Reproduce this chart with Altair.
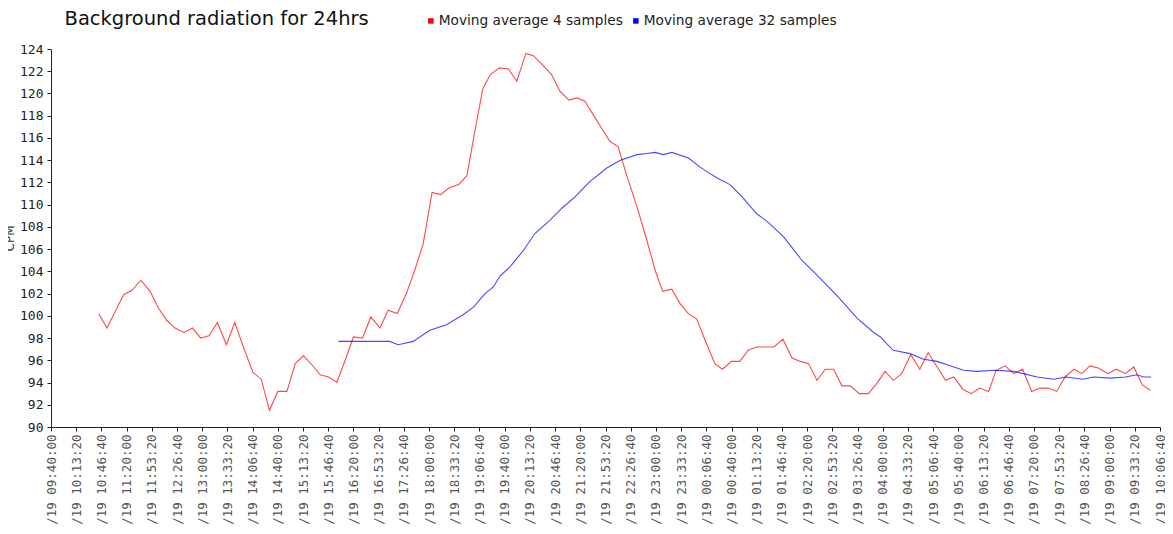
import json
import altair as alt
import pandas as pd

# ---- data (time in minutes after 09:40:00, values in CPM) ----
red_name = "Moving average 4 samples"
blue_name = "Moving average 32 samples"

red_minutes = [63, 74, 85, 96, 107, 119, 131, 142, 153, 164, 176, 187, 198, 209, 220, 232, 243, 255,
               267, 278, 289, 300, 312, 323, 334, 345, 356, 367, 378, 389, 400, 412, 423, 435, 446, 458,
               470, 481, 492, 504, 515, 526, 539, 550, 560, 571, 581, 593, 605, 616, 628, 638, 651, 662,
               673, 685, 696, 706, 717, 728, 739, 750, 762, 775, 788, 799, 809, 821, 832, 843, 854, 865,
               878, 888, 900, 911, 922, 933, 944, 956, 968, 980, 991, 1002, 1013, 1024, 1035, 1046, 1057,
               1069, 1081, 1092, 1103, 1114, 1125, 1137, 1149, 1160, 1172, 1183, 1194, 1206, 1217, 1228,
               1240, 1250, 1262, 1273, 1285, 1297, 1308, 1319, 1330, 1341, 1353, 1363, 1374, 1385, 1398,
               1409, 1421, 1432, 1443, 1454]
red_cpm = [100.2, 98.9, 100.4, 101.9, 102.3, 103.2, 102.2, 100.7, 99.6, 98.9, 98.5, 98.9, 98.0, 98.2,
           99.4, 97.4, 99.4, 97.1, 94.9, 94.3, 91.5, 93.2, 93.2, 95.7, 96.4, 95.6, 94.7, 94.5, 94.0, 96.0,
           98.1, 98.0, 99.9, 98.9, 100.5, 100.2, 102.0, 104.1, 106.4, 111.1, 110.9, 111.5, 111.8, 112.6,
           116.4, 120.4, 121.7, 122.3, 122.2, 121.1, 123.6, 123.4, 122.5, 121.7, 120.2, 119.4, 119.6,
           119.3, 118.1, 116.9, 115.7, 115.2, 112.5, 109.8, 106.8, 104.1, 102.2, 102.4, 101.1, 100.2,
           99.7, 97.8, 95.7, 95.2, 95.9, 95.9, 96.9, 97.2, 97.2, 97.2, 97.9, 96.2, 95.9, 95.7, 94.2, 95.2,
           95.2, 93.7, 93.7, 93.0, 93.0, 93.9, 95.0, 94.2, 94.8, 96.5, 95.2, 96.7, 95.4, 94.2, 94.5, 93.4,
           93.0, 93.5, 93.2, 95.1, 95.5, 94.8, 95.2, 93.2, 93.5, 93.5, 93.2, 94.5, 95.2, 94.8, 95.5, 95.3,
           94.8, 95.2, 94.8, 95.4, 93.8, 93.3]

blue_minutes = [380, 409, 435, 448, 459, 479, 501, 523, 545, 559, 574, 585, 594, 607, 625, 640, 660, 676,
                693, 713, 735, 753, 775, 788, 799, 810, 821, 843, 858, 869, 881, 898, 914, 933, 947, 969,
                993, 1017, 1041, 1066, 1088, 1097, 1105, 1114, 1136, 1154, 1172, 1189, 1207, 1224, 1249,
                1273, 1286, 1304, 1326, 1343, 1365, 1379, 1401, 1421, 1436, 1445, 1455]
blue_cpm = [97.7, 97.7, 97.7, 97.7, 97.4, 97.7, 98.7, 99.2, 100.1, 100.8, 102.0, 102.6, 103.6, 104.4,
            105.9, 107.4, 108.6, 109.7, 110.7, 112.1, 113.3, 114.0, 114.5, 114.6, 114.7, 114.5, 114.7,
            114.2, 113.4, 112.9, 112.4, 111.8, 110.7, 109.2, 108.5, 107.1, 105.0, 103.4, 101.7, 99.8, 98.5,
            98.1, 97.5, 96.9, 96.6, 96.1, 95.9, 95.5, 95.1, 95.0, 95.1, 95.0, 94.8, 94.5, 94.3, 94.5, 94.3,
            94.5, 94.4, 94.5, 94.7, 94.5, 94.5]

x_tick_labels = ["/19 09:40:00", "/19 10:13:20", "/19 10:46:40", "/19 11:20:00", "/19 11:53:20",
                 "/19 12:26:40", "/19 13:00:00", "/19 13:33:20", "/19 14:06:40", "/19 14:40:00",
                 "/19 15:13:20", "/19 15:46:40", "/19 16:20:00", "/19 16:53:20", "/19 17:26:40",
                 "/19 18:00:00", "/19 18:33:20", "/19 19:06:40", "/19 19:40:00", "/19 20:13:20",
                 "/19 20:46:40", "/19 21:20:00", "/19 21:53:20", "/19 22:26:40", "/19 23:00:00",
                 "/19 23:33:20", "/19 00:06:40", "/19 00:40:00", "/19 01:13:20", "/19 01:46:40",
                 "/19 02:20:00", "/19 02:53:20", "/19 03:26:40", "/19 04:00:00", "/19 04:33:20",
                 "/19 05:06:40", "/19 05:40:00", "/19 06:13:20", "/19 06:46:40", "/19 07:20:00",
                 "/19 07:53:20", "/19 08:26:40", "/19 09:00:00", "/19 09:33:20", "/19 10:06:40"]
x_tick_step = 100 / 3  # 33 min 20 s between labelled ticks
y_ticks = [90, 92, 94, 96, 98, 100, 102, 104, 106, 108, 110, 112, 114, 116, 118, 120, 122, 124]

df = pd.concat([
    pd.DataFrame({"minutes": red_minutes, "cpm": red_cpm, "series": red_name}),
    pd.DataFrame({"minutes": blue_minutes, "cpm": blue_cpm, "series": blue_name}),
])

x_values = [i * x_tick_step for i in range(len(x_tick_labels))]
label_expr = json.dumps(x_tick_labels) + "[round(datum.value / " + repr(x_tick_step) + ")]"

chart = alt.Chart(df).mark_line(strokeWidth=1.1, opacity=0.72).encode(
    x=alt.X("minutes:Q",
            scale=alt.Scale(domain=[0, x_values[-1]], nice=False, zero=False),
            axis=alt.Axis(values=x_values, labelExpr=label_expr, labelAngle=-90,
                          labelFont="DejaVu Sans Mono", labelFontSize=12.5, labelColor="#555",
                          labelOverlap=False, labelBound=False, labelFlush=False,
                          tickSize=4, labelPadding=3, tickColor="#222", domainColor="#222",
                          grid=False, title=None)),
    y=alt.Y("cpm:Q",
            scale=alt.Scale(domain=[90, 124], nice=False, zero=False),
            axis=alt.Axis(values=y_ticks, labelFont="DejaVu Sans Mono", labelFontSize=13,
                          labelColor="#222", tickSize=4, labelPadding=4, tickColor="#222",
                          domainColor="#222", grid=False, title="CPM", titleFont="DejaVu Sans",
                          titleFontSize=12, titleFontWeight="normal", titleColor="#333",
                          titlePadding=3)),
    color=alt.Color("series:N",
                    scale=alt.Scale(domain=[red_name, blue_name], range=["#ff0000", "#0000ff"]),
                    legend=alt.Legend(orient="none", legendX=373, legendY=-35, direction="horizontal",
                                      title=None, symbolType="square", symbolSize=4,
                                      symbolStrokeWidth=3.5, symbolOpacity=1, labelFont="DejaVu Sans",
                                      labelFontSize=13.7, labelColor="#222", labelOffset=1,
                                      labelLimit=400, columnPadding=4, padding=0)),
).properties(
    width=1109,
    height=378,
    title=alt.TitleParams("Background radiation for 24hrs", anchor="start", dx=61, dy=15,
                          fontSize=19.5, font="DejaVu Sans", fontWeight="normal", color="#111",
                          offset=0),
    autosize=alt.AutoSizeParams(type="none"),
    padding={"left": 43, "top": 41, "right": 5, "bottom": 97},
).configure_view(stroke=None)

chart.save("out.html", embed_options={"renderer": "svg", "actions": False})
